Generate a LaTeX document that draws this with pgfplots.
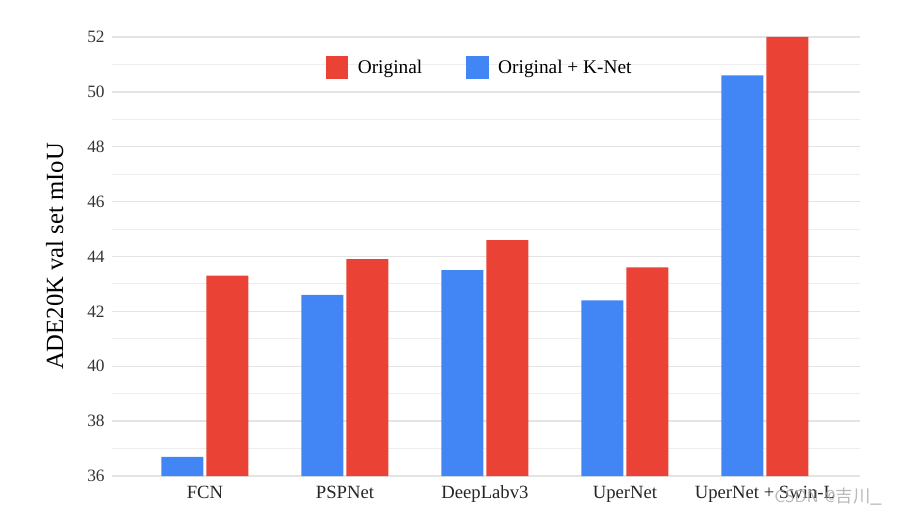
\documentclass[border=0pt]{standalone}
\usepackage{pgfplots}
\pgfplotsset{compat=1.18}
\usepackage{fontspec}
\setmainfont{Liberation Serif}
\newfontfamily\cjk{Noto Sans CJK SC}
\definecolor{gred}{HTML}{EA4335}
\definecolor{gblue}{HTML}{4285F4}
\definecolor{gridc}{HTML}{E3E3E3}
\definecolor{gridm}{HTML}{EEEEEE}
\begin{document}
\begin{tikzpicture}[x=0.75pt,y=0.75pt]
\useasboundingbox (0,0) rectangle (903,518);
\begin{axis}[
  at={(84pt,31.5pt)}, anchor=south west,
  scale only axis, width=561pt, height=329.25pt,
  xmin=-0.664, xmax=4.679, ymin=36, ymax=52,
  axis line style={draw=none},
  major tick length=0pt, minor tick length=0pt,
  ytick={36,38,...,52}, minor ytick={37,39,...,51},
  ymajorgrids, yminorgrids,
  major grid style={gridc, line width=1pt},
  minor grid style={gridm, line width=0.8pt},
  xtick={0,1,2,3,4},
  xticklabels={FCN,PSPNet,DeepLabv3,UperNet,UperNet + Swin-L},
  xticklabel style={font=\fontsize{14}{16}\selectfont, text=black!85, anchor=base, yshift=-17pt},
  yticklabel style={font=\fontsize{13}{14}\selectfont, text=black!80, xshift=-2pt},
  /pgf/number format/assume math mode=true,
  ylabel={ADE20K val set mIoU},
  ylabel style={font=\fontsize{18.5}{20}\selectfont, yshift=11pt},
  ybar, bar width=31.5pt,
  reverse legend,
  legend columns=2,
  legend style={draw=none, fill=none, at={(0.492,0.93)}, anchor=center,
    font=\fontsize{14.5}{16}\selectfont,
    /tikz/every odd column/.append style={column sep=5pt},
    /tikz/every even column/.append style={column sep=31pt}},
  legend image code/.code={\fill[#1] (0pt,-8.5pt) rectangle (17pt,8.5pt);},
]
\addplot[fill=gblue, draw=none, bar shift=-16.9pt] coordinates {(0,36.7) (1,42.6) (2,43.5) (3,42.4) (4,50.6)};
\addlegendentry{Original + K-Net}
\addplot[fill=gred, draw=none, bar shift=16.9pt] coordinates {(0,43.3) (1,43.9) (2,44.6) (3,43.6) (4,52.0)};
\addlegendentry{Original}
\end{axis}
\node[text=gray!70, opacity=0.8, font=\fontsize{13}{14}\selectfont] at (828,21) {\sffamily CSDN @{\cjk 吉川}\_};
\end{tikzpicture}
\end{document}
